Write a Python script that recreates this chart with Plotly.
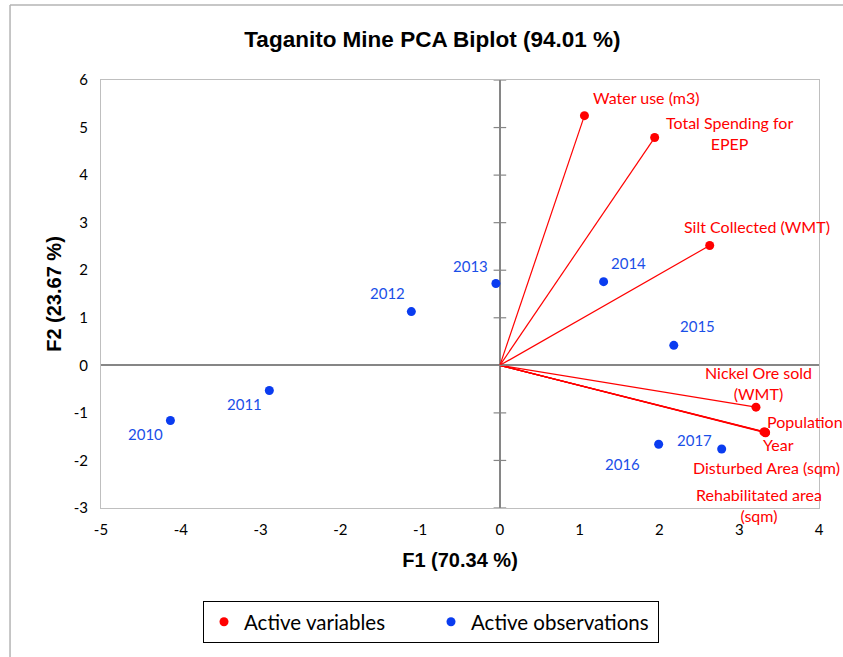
import plotly.graph_objects as go

# ---- data ----
var_names = ["Water use (m3)", "Total Spending for<br>EPEP", "Silt Collected (WMT)",
             "Nickel Ore sold<br>(WMT)", "Population", "Year",
             "Disturbed Area (sqm)", "Rehabilitated area<br>(sqm)"]
var_f1 = [1.06, 1.94, 2.63, 3.21, 3.33, 3.32, 3.33, 3.31]
var_f2 = [5.25, 4.79, 2.52, -0.88, -1.41, -1.40, -1.42, -1.40]

obs_names = ["2010", "2011", "2012", "2013", "2014", "2015", "2016", "2017"]
obs_f1 = [-4.13, -2.89, -1.11, -0.05, 1.30, 2.18, 1.99, 2.78]
obs_f2 = [-1.16, -0.53, 1.13, 1.72, 1.76, 0.42, -1.66, -1.76]

x_ticks = [-5, -4, -3, -2, -1, 0, 1, 2, 3, 4]
y_ticks = [-3, -2, -1, 0, 1, 2, 3, 4, 5, 6]

# ---- label placement (styling, pixel offsets) ----
var_label_style = [
    dict(xanchor="left", xshift=7, yshift=18),
    dict(xanchor="center", xshift=75, yshift=5),
    dict(xanchor="center", xshift=47, yshift=19),
    dict(xanchor="center", xshift=3, yshift=24),
    dict(xanchor="left", xshift=-1, yshift=11),
    dict(xanchor="center", xshift=14, yshift=-13),
    dict(xanchor="center", xshift=1, yshift=-35),
    dict(xanchor="center", xshift=-5, yshift=-73),
]
obs_label_style = [
    dict(xshift=-25, yshift=-13), dict(xshift=-25, yshift=-13),
    dict(xshift=-24, yshift=19), dict(xshift=-25, yshift=18),
    dict(xshift=25, yshift=19), dict(xshift=24, yshift=19),
    dict(xshift=-36, yshift=-20), dict(xshift=-27, yshift=9),
]

RED = "#FF0000"
BLUE = "#0A3CF0"
BLUE_TXT = "#1A4FE8"
AXIS = "#868686"
FRAME = "#BFBFBF"
BODY_FONT = "Lato"
HEAD_FONT = "Liberation Sans"

fig = go.Figure()

# vectors from origin
for vx, vy in zip(var_f1, var_f2):
    fig.add_trace(go.Scatter(x=[0, vx], y=[0, vy], mode="lines",
                             line=dict(color=RED, width=1.2),
                             showlegend=False, hoverinfo="skip"))

# tick marks on vertical zero line
fig.add_trace(go.Scatter(x=[0] * len(y_ticks), y=y_ticks, mode="markers",
                         marker=dict(symbol="line-ew", size=9,
                                     line=dict(color=AXIS, width=1.2)),
                         showlegend=False, hoverinfo="skip"))

fig.add_trace(go.Scatter(x=var_f1, y=var_f2, mode="markers", name="Active variables",
                         marker=dict(color=RED, size=9)))
fig.add_trace(go.Scatter(x=obs_f1, y=obs_f2, mode="markers", name="Active observations",
                         marker=dict(color=BLUE, size=9)))

for name, vx, vy, st in zip(var_names, var_f1, var_f2, var_label_style):
    fig.add_annotation(x=vx, y=vy, text=name, showarrow=False, yanchor="middle",
                       font=dict(family=BODY_FONT, size=16, color=RED), **st)
for name, ox, oy, st in zip(obs_names, obs_f1, obs_f2, obs_label_style):
    fig.add_annotation(x=ox, y=oy, text=name, showarrow=False, xanchor="center",
                       yanchor="middle",
                       font=dict(family=BODY_FONT, size=15, color=BLUE_TXT), **st)

# outer chart border (left and top edges visible)
fig.add_shape(type="line", xref="paper", yref="paper", x0=-0.1267, x1=-0.1267,
              y0=1.175, y1=-0.36, line=dict(color="#B4B4B4", width=1.5))
fig.add_shape(type="line", xref="paper", yref="paper", x0=-0.1267, x1=1.05,
              y0=1.175, y1=1.175, line=dict(color="#B4B4B4", width=1.5))

fig.update_layout(
    width=843, height=657,
    margin=dict(l=101, r=24, t=80, b=149),
    paper_bgcolor="white", plot_bgcolor="white",
    title=dict(text="<b>Taganito Mine PCA Biplot (94.01 %)</b>", x=0.513, xanchor="center",
               y=0.941, yanchor="middle",
               font=dict(family=HEAD_FONT, size=22.5, color="black")),
    xaxis=dict(range=[-5, 4], tickvals=x_ticks, ticktext=[str(v) for v in x_ticks],
               showgrid=False,
               zeroline=True, zerolinecolor=AXIS, zerolinewidth=1.5,
               showline=True, linecolor=FRAME, linewidth=1, mirror=True,
               ticks="", ticklabelstandoff=8,
               tickfont=dict(family=BODY_FONT, size=15, color="black"),
               title=dict(text="<b>F1 (70.34 %)</b>", standoff=15,
                          font=dict(family=HEAD_FONT, size=20, color="black"))),
    yaxis=dict(range=[-3, 6], tickvals=y_ticks, ticktext=[str(v) for v in y_ticks],
               showgrid=False,
               zeroline=True, zerolinecolor=AXIS, zerolinewidth=1.5,
               showline=True, linecolor=FRAME, linewidth=1, mirror=True,
               ticks="", ticklabelstandoff=9,
               tickfont=dict(family=BODY_FONT, size=15, color="black"),
               title=dict(text="<b>F2 (23.67 %)</b>", standoff=6,
                          font=dict(family=HEAD_FONT, size=20, color="black"))),
    legend=dict(orientation="h", x=0.4596, xanchor="center", y=-0.217, yanchor="top",
                bordercolor="black", borderwidth=1, bgcolor="white",
                font=dict(family=BODY_FONT, size=20.5, color="black"),
                entrywidth=182, itemwidth=30),
    showlegend=True,
)

fig.write_html("out.html", config={"displayModeBar": False},
               post_script="document.body.style.margin='0px';document.body.style.overflow='hidden';")
